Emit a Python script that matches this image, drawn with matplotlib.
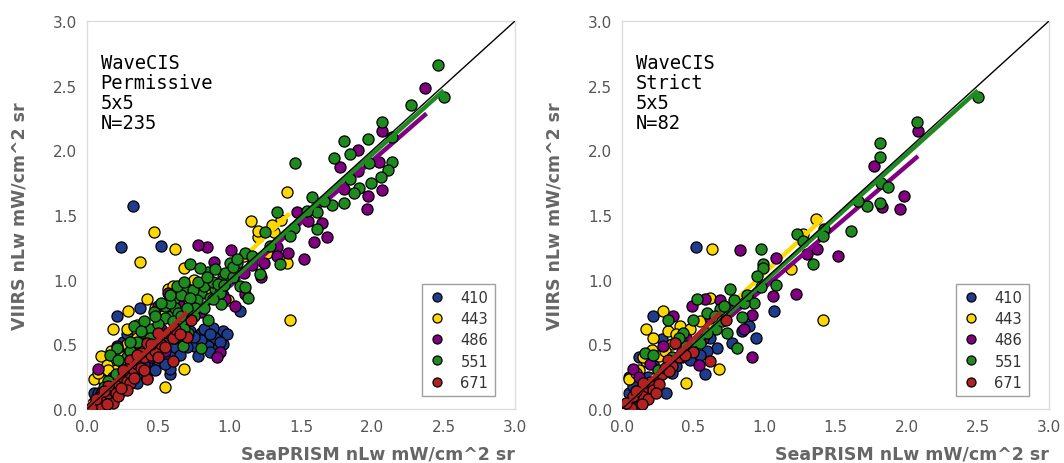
import numpy as np
import matplotlib
matplotlib.use("Agg")
import matplotlib.pyplot as plt
from matplotlib.lines import Line2D

# Bands and colours
bands = ["410", "443", "486", "551", "671"]
band_colors = ["#1f3d8c", "#ffd700", "#800080", "#1f8a1f", "#b22222"]

# ---------------- Permissive (left) matchups ----------------
perm_410_x = [0.32, 0.24, 0.52, 1.07, 0.58, 0.21, 0.37, 0.95, 0.88, 0.84, 0.90, 0.95, 0.80,
              0.75, 0.85, 0.78, 0.92, 0.86, 0.98, 0.82, 0.58, 0.30, 0.45, 0.20, 0.12, 0.38,
              0.55, 0.60, 0.65, 0.05, 0.04, 0.50, 0.70, 0.25, 0.28, 0.15, 0.10, 0.08, 0.35,
              0.42, 0.62, 0.68, 0.72, 0.18, 0.03, 0.80, 0.86, 0.93, 0.75, 0.70, 0.65, 0.55,
              0.48, 0.42, 0.35, 0.25, 0.18, 0.10, 0.06, 0.32, 0.28]
perm_410_y = [1.57, 1.25, 1.26, 0.76, 0.27, 0.72, 0.78, 0.60, 0.63, 0.55, 0.55, 0.50, 0.59,
              0.49, 0.49, 0.41, 0.47, 0.44, 0.58, 0.62, 0.31, 0.20, 0.32, 0.14, 0.08, 0.30,
              0.40, 0.45, 0.50, 0.12, 0.05, 0.38, 0.55, 0.52, 0.58, 0.28, 0.06, 0.12, 0.26,
              0.36, 0.48, 0.52, 0.60, 0.16, 0.02, 0.53, 0.58, 0.52, 0.56, 0.48, 0.42, 0.35,
              0.30, 0.24, 0.20, 0.15, 0.10, 0.04, 0.02, 0.48, 0.45]

perm_443_x = [1.40, 1.15, 1.36, 1.20, 1.40, 1.42, 0.47, 0.62, 0.37, 0.68, 0.57, 0.42, 0.29,
              0.18, 0.28, 0.35, 0.68, 0.55, 0.10, 0.14, 0.05, 0.61, 0.80, 0.99, 1.26, 1.31,
              0.20, 0.25, 0.35, 0.45, 0.12, 0.40, 0.55, 0.70, 0.85, 0.22, 0.32, 0.50, 0.08,
              0.65, 0.95, 1.10, 0.17, 0.15, 0.28, 0.38, 0.48, 0.60, 0.75, 1.20, 1.30]
perm_443_y = [1.68, 1.45, 1.46, 1.33, 1.13, 0.69, 1.37, 1.24, 1.14, 1.09, 0.93, 0.85, 0.76,
              0.62, 0.62, 0.65, 0.31, 0.17, 0.41, 0.34, 0.23, 0.87, 0.95, 0.84, 1.21, 1.37,
              0.30, 0.40, 0.55, 0.60, 0.22, 0.45, 0.75, 0.80, 0.92, 0.48, 0.36, 0.52, 0.28,
              0.70, 1.02, 1.18, 0.45, 0.30, 0.50, 0.62, 0.78, 0.95, 1.00, 1.38, 1.42]

perm_486_x = [2.37, 2.07, 2.05, 2.07, 1.97, 1.96, 1.77, 1.90, 1.65, 1.68, 1.59, 1.52, 1.41,
              1.33, 1.33, 1.24, 1.22, 1.01, 0.89, 0.84, 0.78, 1.11, 0.93, 0.91, 0.08, 0.50,
              0.57, 0.34, 0.21, 0.71, 1.04, 1.16, 1.47, 1.90, 0.15, 0.25, 0.40, 0.55, 0.62,
              0.30, 0.45, 0.10, 0.80, 0.95, 1.10, 1.55, 1.80, 0.65, 0.72, 0.92, 0.97, 0.52,
              0.40, 0.18, 0.08]
perm_486_y = [2.48, 2.15, 1.91, 1.69, 1.65, 1.55, 1.87, 1.84, 1.44, 1.33, 1.29, 1.16, 1.21,
              1.25, 1.18, 1.13, 1.02, 1.23, 1.14, 1.25, 1.27, 0.89, 0.44, 0.40, 0.31, 0.80,
              0.90, 0.49, 0.49, 0.69, 0.80, 1.11, 1.52, 2.00, 0.15, 0.22, 0.35, 0.45, 0.55,
              0.30, 0.40, 0.12, 0.75, 0.88, 1.05, 1.45, 1.70, 0.80, 0.75, 0.95, 0.85, 0.62,
              0.55, 0.25, 0.05]

perm_551_x = [2.46, 2.50, 2.27, 2.07, 2.14, 1.97, 1.80, 1.46, 1.73, 1.84, 2.14, 1.98, 2.11,
              2.06, 1.99, 1.91, 1.84, 1.87, 1.80, 1.72, 1.66, 1.58, 1.61, 1.54, 1.61, 1.45,
              1.33, 1.42, 1.35, 1.25, 1.11, 1.21, 1.05, 0.95, 1.07, 1.00, 0.85, 0.72, 0.79,
              0.90, 0.80, 0.70, 0.61, 0.55, 0.47, 0.59, 0.71, 0.80, 0.67, 0.40, 0.33, 0.21,
              0.16, 0.38, 0.50, 0.85, 0.94, 1.11, 1.13, 0.55, 0.62, 0.66, 0.74, 0.77, 0.82,
              0.88, 0.93, 0.97, 1.02, 0.45, 0.50, 0.35, 0.28, 0.25, 0.20, 0.15, 0.12, 0.30,
              0.58, 0.64, 0.76, 0.86, 0.92, 1.16, 1.28, 0.40, 0.48, 0.52, 0.58, 0.63, 0.68,
              0.72, 0.78, 0.84, 0.90, 0.96, 1.02, 1.05, 0.44, 0.38, 0.30, 0.22, 0.60, 0.66,
              0.70, 0.75, 0.82, 0.88, 0.68]
perm_551_y = [2.66, 2.41, 2.35, 2.22, 2.10, 2.09, 2.07, 1.90, 1.94, 1.97, 1.91, 1.90, 1.85,
              1.79, 1.75, 1.71, 1.78, 1.67, 1.59, 1.58, 1.61, 1.64, 1.52, 1.53, 1.39, 1.40,
              1.52, 1.34, 1.12, 1.37, 1.21, 1.04, 1.13, 1.00, 0.95, 1.13, 1.06, 1.12, 1.09,
              0.93, 0.90, 0.93, 0.85, 0.80, 0.75, 0.72, 0.59, 0.47, 0.49, 0.59, 0.64, 0.47,
              0.42, 0.51, 0.58, 0.69, 0.81, 0.94, 0.86, 0.70, 0.78, 0.88, 0.92, 0.84, 0.95,
              0.98, 0.90, 1.05, 1.02, 0.62, 0.66, 0.52, 0.40, 0.35, 0.27, 0.22, 0.17, 0.45,
              0.82, 0.74, 0.78, 0.86, 0.97, 1.18, 1.26, 0.68, 0.72, 0.82, 0.88, 0.95, 0.98,
              0.86, 0.98, 1.02, 1.08, 0.96, 1.10, 1.16, 0.55, 0.60, 0.52, 0.38, 0.68, 0.72,
              0.78, 0.72, 0.78, 0.85, 0.62]

perm_671_x = [0.73, 0.70, 0.60, 0.57, 0.50, 0.42, 0.38, 0.42, 0.30, 0.28, 0.05, 0.08, 0.10,
              0.12, 0.15, 0.18, 0.20, 0.22, 0.25, 0.28, 0.30, 0.33, 0.35, 0.38, 0.40, 0.45,
              0.48, 0.52, 0.55, 0.60, 0.62, 0.65, 0.45, 0.35, 0.25, 0.15, 0.12, 0.20, 0.30,
              0.18, 0.10, 0.06, 0.22, 0.28, 0.40, 0.50, 0.03, 0.14, 0.24, 0.33]
perm_671_y = [0.69, 0.56, 0.37, 0.59, 0.59, 0.51, 0.43, 0.23, 0.38, 0.31, 0.03, 0.06, 0.10,
              0.08, 0.12, 0.15, 0.18, 0.20, 0.25, 0.22, 0.28, 0.30, 0.35, 0.32, 0.40, 0.42,
              0.45, 0.50, 0.48, 0.55, 0.62, 0.58, 0.50, 0.42, 0.30, 0.18, 0.14, 0.12, 0.20,
              0.05, 0.02, 0.08, 0.10, 0.15, 0.30, 0.40, 0.01, 0.04, 0.16, 0.24]

# ---------------- Strict (right) matchups ----------------
strict_410_x = [0.52, 0.22, 1.07, 0.94, 0.84, 0.89, 0.77, 0.67, 0.58, 0.28, 0.31, 0.05, 0.12,
                0.05, 0.38, 0.48, 0.20, 0.15, 0.10, 0.25, 0.60, 0.18, 0.22, 0.35, 0.42, 0.08,
                0.55, 0.62]
strict_410_y = [1.25, 0.72, 0.76, 0.55, 0.60, 0.64, 0.51, 0.47, 0.27, 0.54, 0.12, 0.12, 0.40,
                0.25, 0.33, 0.38, 0.18, 0.10, 0.06, 0.28, 0.45, 0.25, 0.35, 0.28, 0.40, 0.18,
                0.42, 0.55]

strict_443_x = [1.36, 0.63, 1.19, 1.41, 0.29, 0.17, 0.32, 0.68, 0.45, 0.21, 0.17, 0.62, 0.41,
                1.27, 0.05, 0.26, 0.12, 0.35, 0.55, 0.10, 0.22, 0.30, 0.38, 0.15, 0.48]
strict_443_y = [1.47, 1.24, 1.08, 0.69, 0.76, 0.62, 0.60, 0.31, 0.20, 0.46, 0.37, 0.86, 0.64,
                1.35, 0.23, 0.41, 0.30, 0.50, 0.68, 0.28, 0.55, 0.45, 0.58, 0.40, 0.62]

strict_486_x = [2.08, 1.77, 1.83, 1.95, 1.98, 1.52, 1.37, 1.30, 1.22, 1.08, 1.06, 0.83, 0.91,
                0.91, 0.49, 0.58, 0.69, 0.36, 0.08, 0.54, 0.86, 0.57, 0.29, 0.15, 0.42, 0.12,
                0.20, 0.45, 0.62, 0.75]
strict_486_y = [2.15, 1.88, 1.56, 1.55, 1.65, 1.18, 1.24, 1.20, 0.89, 1.17, 0.87, 1.23, 0.73,
                0.40, 0.80, 0.85, 0.84, 0.72, 0.31, 0.34, 0.62, 0.54, 0.49, 0.20, 0.45, 0.25,
                0.35, 0.55, 0.70, 0.78]

strict_551_x = [2.50, 2.07, 1.81, 1.81, 1.82, 1.87, 1.81, 1.72, 1.66, 1.61, 1.42, 1.41, 1.23,
                1.27, 1.34, 0.98, 0.99, 0.99, 0.95, 1.08, 0.98, 0.93, 0.86, 0.79, 0.76, 0.84,
                0.81, 0.66, 0.60, 0.53, 0.50, 0.43, 0.32, 0.16, 0.69, 0.60, 0.74, 0.45, 0.55,
                0.25, 0.35, 0.10, 0.22, 0.40, 0.65, 0.72, 0.88, 0.70]
strict_551_y = [2.41, 2.22, 2.06, 1.95, 1.75, 1.72, 1.59, 1.57, 1.61, 1.38, 1.39, 1.34, 1.35,
                1.30, 1.12, 1.24, 1.12, 1.09, 1.03, 0.96, 0.94, 0.82, 0.82, 0.84, 0.93, 0.71,
                0.47, 0.62, 0.59, 0.85, 0.69, 0.59, 0.69, 0.43, 0.77, 0.74, 0.59, 0.49, 0.51,
                0.30, 0.40, 0.14, 0.42, 0.55, 0.72, 0.80, 0.88, 0.68]

strict_671_x = [0.73, 0.62, 0.37, 0.32, 0.50, 0.05, 0.08, 0.10, 0.12, 0.15, 0.18, 0.20, 0.22,
                0.25, 0.28, 0.30, 0.35, 0.40, 0.44, 0.12, 0.08, 0.15, 0.26, 0.33, 0.06, 0.03,
                0.10, 0.18, 0.24, 0.14]
strict_671_y = [0.69, 0.37, 0.51, 0.38, 0.44, 0.03, 0.06, 0.09, 0.12, 0.10, 0.17, 0.21, 0.15,
                0.24, 0.27, 0.32, 0.33, 0.40, 0.42, 0.02, 0.10, 0.20, 0.19, 0.29, 0.01, 0.05,
                0.14, 0.08, 0.12, 0.04]

# Linear fits per band: slope, intercept, x range
perm_slope = [0.93, 1.05, 0.96, 0.985, 1.07]
perm_icpt = [0.02, 0.02, 0.0, 0.0, 0.0]
perm_xmax = [1.07, 1.42, 2.38, 2.50, 0.70]
strict_slope = [0.92, 1.03, 0.94, 0.985, 1.08]
strict_icpt = [0.02, 0.02, 0.0, 0.0, 0.0]
strict_xmax = [1.07, 1.41, 2.08, 2.50, 0.69]
fit_xmin = 0.02

panels = [
    {
        "xs": [perm_410_x, perm_443_x, perm_486_x, perm_551_x, perm_671_x],
        "ys": [perm_410_y, perm_443_y, perm_486_y, perm_551_y, perm_671_y],
        "slope": perm_slope, "icpt": perm_icpt, "xmax": perm_xmax,
        "text": "WaveCIS\nPermissive\n5x5\nN=235",
    },
    {
        "xs": [strict_410_x, strict_443_x, strict_486_x, strict_551_x, strict_671_x],
        "ys": [strict_410_y, strict_443_y, strict_486_y, strict_551_y, strict_671_y],
        "slope": strict_slope, "icpt": strict_icpt, "xmax": strict_xmax,
        "text": "WaveCIS\nStrict\n5x5\nN=82",
    },
]

fig = plt.figure(figsize=(10.64, 4.64), dpi=100)
ax_boxes = [[87 / 1064, 54 / 464, 428 / 1064, 388 / 464],
            [622 / 1064, 54 / 464, 427 / 1064, 388 / 464]]

for box, p in zip(ax_boxes, panels):
    ax = fig.add_axes(box)
    # each band: points, then its fit line (later bands cover earlier lines)
    for k, c in enumerate(band_colors):
        ax.scatter(p["xs"][k], p["ys"][k], s=64, c=c, edgecolors="black",
                   linewidths=0.9, zorder=2 + 2 * k)
        xx = np.array([fit_xmin, p["xmax"][k]])
        ax.plot(xx, p["slope"][k] * xx + p["icpt"][k], color=c, lw=3.2,
                solid_capstyle="butt", zorder=3 + 2 * k)
    ax.plot([0, 3], [0, 3], color="black", lw=1.0, zorder=20)

    ax.set_xlim(0, 3)
    ax.set_ylim(0, 3)
    ticks = np.arange(0, 3.01, 0.5)
    ax.set_xticks(ticks)
    ax.set_yticks(ticks)
    ax.set_xticklabels([f"{t:.1f}" for t in ticks])
    ax.set_yticklabels([f"{t:.1f}" for t in ticks])
    ax.tick_params(length=0, labelsize=11, labelcolor="#555555", pad=7)
    for sp in ax.spines.values():
        sp.set_color("#dddddd")
        sp.set_linewidth(1.0)

    ax.set_xlabel("SeaPRISM nLw mW/cm^2 sr", fontsize=12.5, fontweight="bold",
                  color="#666666", loc="right", labelpad=8)
    ax.set_ylabel("VIIRS nLw mW/cm^2 sr", fontsize=12.5, fontweight="bold",
                  color="#666666", labelpad=18)

    ax.text(0.032, 0.918, p["text"], transform=ax.transAxes, ha="left", va="top",
            family="DejaVu Sans Mono", fontsize=13.5, linespacing=1.08, color="black",
            zorder=30)

    handles = [Line2D([], [], ls="", marker="o", markersize=6.5, markerfacecolor=c,
                      markeredgecolor="black", markeredgewidth=0.9) for c in band_colors]
    leg = ax.legend(handles, bands, loc="lower right", bbox_to_anchor=(0.953, 0.033),
                    fontsize=10.5, frameon=True, fancybox=False, handlelength=1.2,
                    handletextpad=1.0, borderpad=0.45, labelspacing=0.42,
                    borderaxespad=0.0)
    leg.set_zorder(40)
    leg.get_frame().set_edgecolor("#888888")
    leg.get_frame().set_linewidth(1.0)
    for t in leg.get_texts():
        t.set_color("#333333")

fig.savefig("out.png", dpi=100)
